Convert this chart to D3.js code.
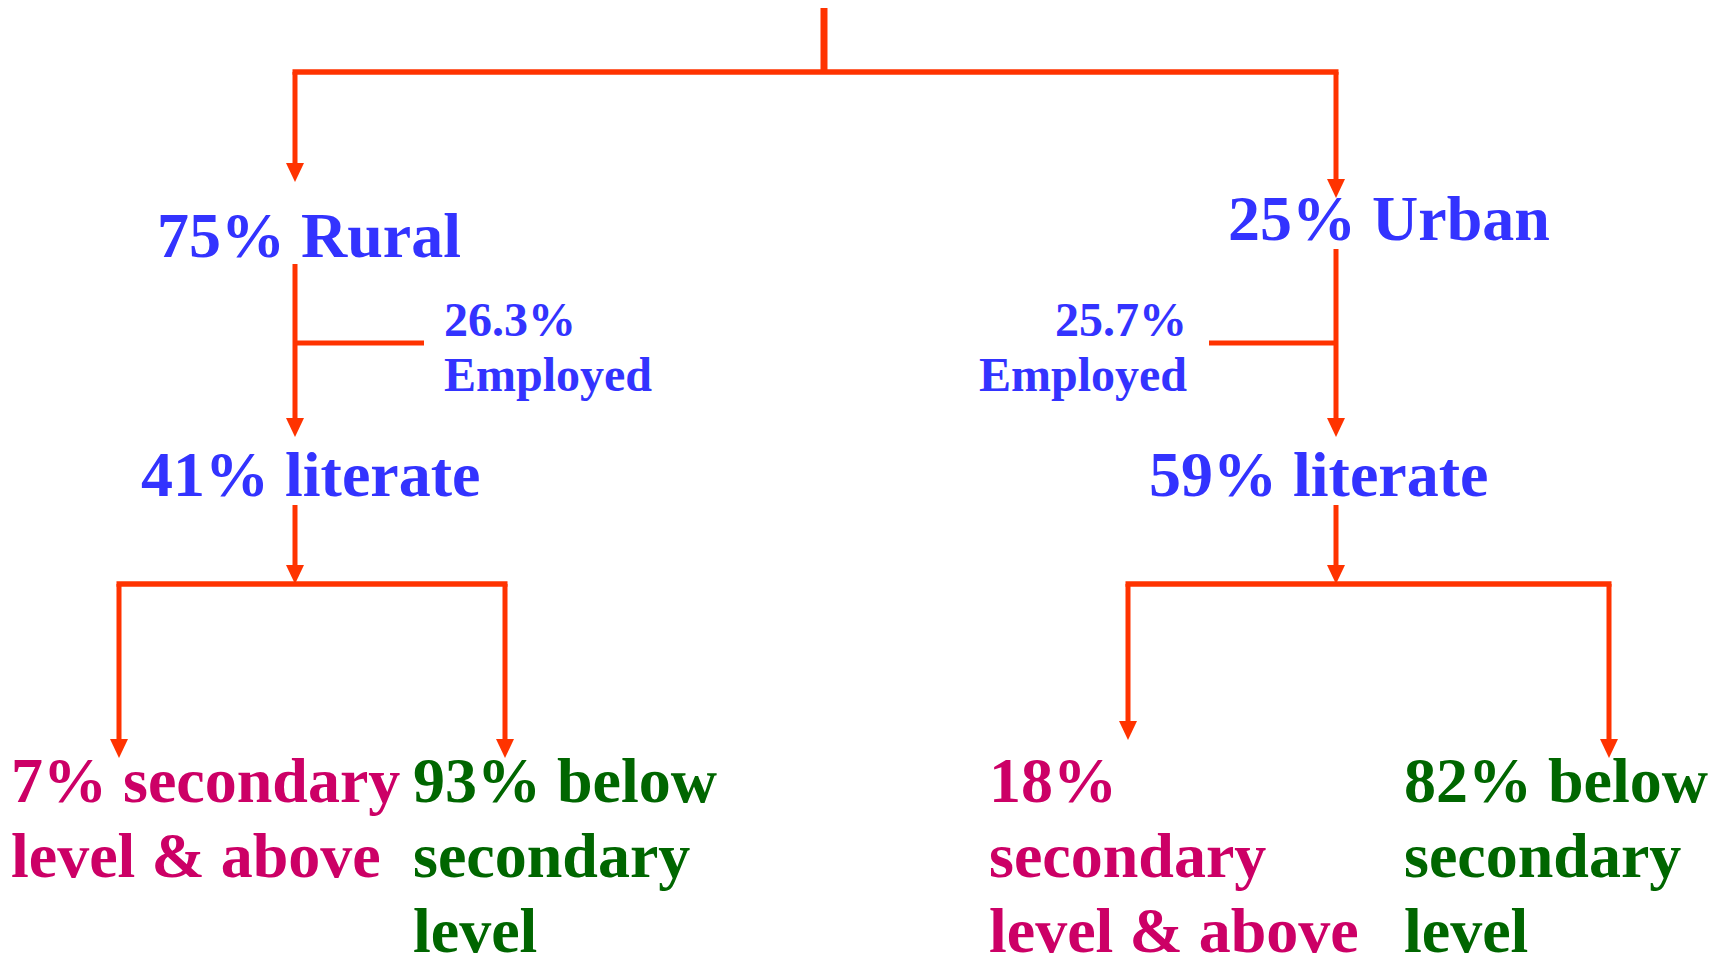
<!DOCTYPE html>
<html>
<head>
<meta charset="utf-8">
<script src="https://cdn.jsdelivr.net/npm/d3@7"></script>
<style>
  html, body { margin: 0; padding: 0; background: #ffffff; }
  svg { display: block; }
  text { font-family: "Liberation Serif", "Times New Roman", serif; font-weight: bold; }
</style>
</head>
<body>
<script>
// ---------- DATA ----------
const areas = ["Rural", "Urban"];
const areaShare = [75, 25];            // % of population
const employedShare = [26.3, 25.7];    // % employed
const literateShare = [41, 59];        // % literate
const secondaryAbove = [7, 18];        // % secondary level & above
const belowSecondary = [93, 82];       // % below secondary level

// label lines for the bottom nodes
const aboveLines = [
  [`${secondaryAbove[0]}% secondary`, "level & above"],
  [`${secondaryAbove[1]}%`, "secondary", "level & above"]
];
const belowLines = [
  [`${belowSecondary[0]}% below`, "secondary", "level"],
  [`${belowSecondary[1]}% below`, "secondary", "level"]
];

// ---------- LAYOUT ----------
const W = 1727, H = 956;
const svg = d3.select("body").append("svg").attr("width", W).attr("height", H);

const LINE = "#ff3300", BLUE = "#3333ff", MAG = "#cc0066", GREEN = "#006600";

// x positions per branch
const x = d3.scaleOrdinal().domain(areas).range([295, 1336]);

function arrowDown(px, y0, tip) {
  svg.append("line").attr("x1", px).attr("x2", px).attr("y1", y0).attr("y2", tip - 14)
    .attr("stroke", LINE).attr("stroke-width", 5);
  svg.append("path")
    .attr("d", `M${px - 9},${tip - 19} L${px + 9},${tip - 19} L${px},${tip} Z`)
    .attr("fill", LINE);
}
function hline(x0, x1, py, w) {
  svg.append("line").attr("x1", x0).attr("x2", x1).attr("y1", py).attr("y2", py)
    .attr("stroke", LINE).attr("stroke-width", w || 5.5);
}
function vline(px, y0, y1, w) {
  svg.append("line").attr("x1", px).attr("x2", px).attr("y1", y0).attr("y2", y1)
    .attr("stroke", LINE).attr("stroke-width", w || 5);
}

// top stem and split
vline(824, 8, 74, 7);
hline(x("Rural") - 2.5, x("Urban") + 2.5, 72, 5.5);

const areaTip = { Rural: 182, Urban: 198 };
const areaLabel = { Rural: { x: 157, y: 257 }, Urban: { x: 1228, y: 240 } };
const lineStart = { Rural: 264, Urban: 249 };
const emp = {
  Rural: { bx0: 295, bx1: 424, tx: 444, anchor: "start" },
  Urban: { bx0: 1209, bx1: 1336, tx: 1187, anchor: "end" }
};
const litLabel = { Rural: 141, Urban: 1149 };
const child = {
  Rural: { l: 119, r: 505, lt: 758, rt: 758, tl: 11, tr: 413 },
  Urban: { l: 1128, r: 1609, lt: 740, rt: 758, tl: 989, tr: 1404 }
};

areas.forEach((a, i) => {
  const cx = x(a);
  arrowDown(cx, 72, areaTip[a]);

  svg.append("text").attr("x", areaLabel[a].x).attr("y", areaLabel[a].y)
    .attr("font-size", 64).attr("fill", BLUE)
    .text(`${areaShare[i]}% ${a}`);

  // employed branch
  arrowDown(cx, lineStart[a], 437);
  hline(emp[a].bx0, emp[a].bx1, 343, 5);
  const et = svg.append("text")
    .attr("font-size", 48).attr("fill", BLUE).attr("text-anchor", emp[a].anchor);
  et.append("tspan").attr("x", emp[a].tx).attr("y", 336).text(`${employedShare[i]}%`);
  et.append("tspan").attr("x", emp[a].tx).attr("y", 391).text("Employed");

  // literate
  svg.append("text").attr("x", litLabel[a]).attr("y", 496)
    .attr("font-size", 64).attr("fill", BLUE)
    .text(`${literateShare[i]}% literate`);

  arrowDown(cx, 505, 584);
  const c = child[a];
  hline(c.l - 2.5, c.r + 2.5, 584, 5.5);
  arrowDown(c.l, 584, c.lt);
  arrowDown(c.r, 584, c.rt);

  const baselines = [802, 877, 952];
  const t1 = svg.append("text").attr("font-size", 64).attr("fill", MAG);
  aboveLines[i].forEach((s, k) => t1.append("tspan").attr("x", c.tl).attr("y", baselines[k]).text(s));
  const t2 = svg.append("text").attr("font-size", 64).attr("fill", GREEN);
  belowLines[i].forEach((s, k) => t2.append("tspan").attr("x", c.tr).attr("y", baselines[k]).text(s));
});
</script>
</body>
</html>
